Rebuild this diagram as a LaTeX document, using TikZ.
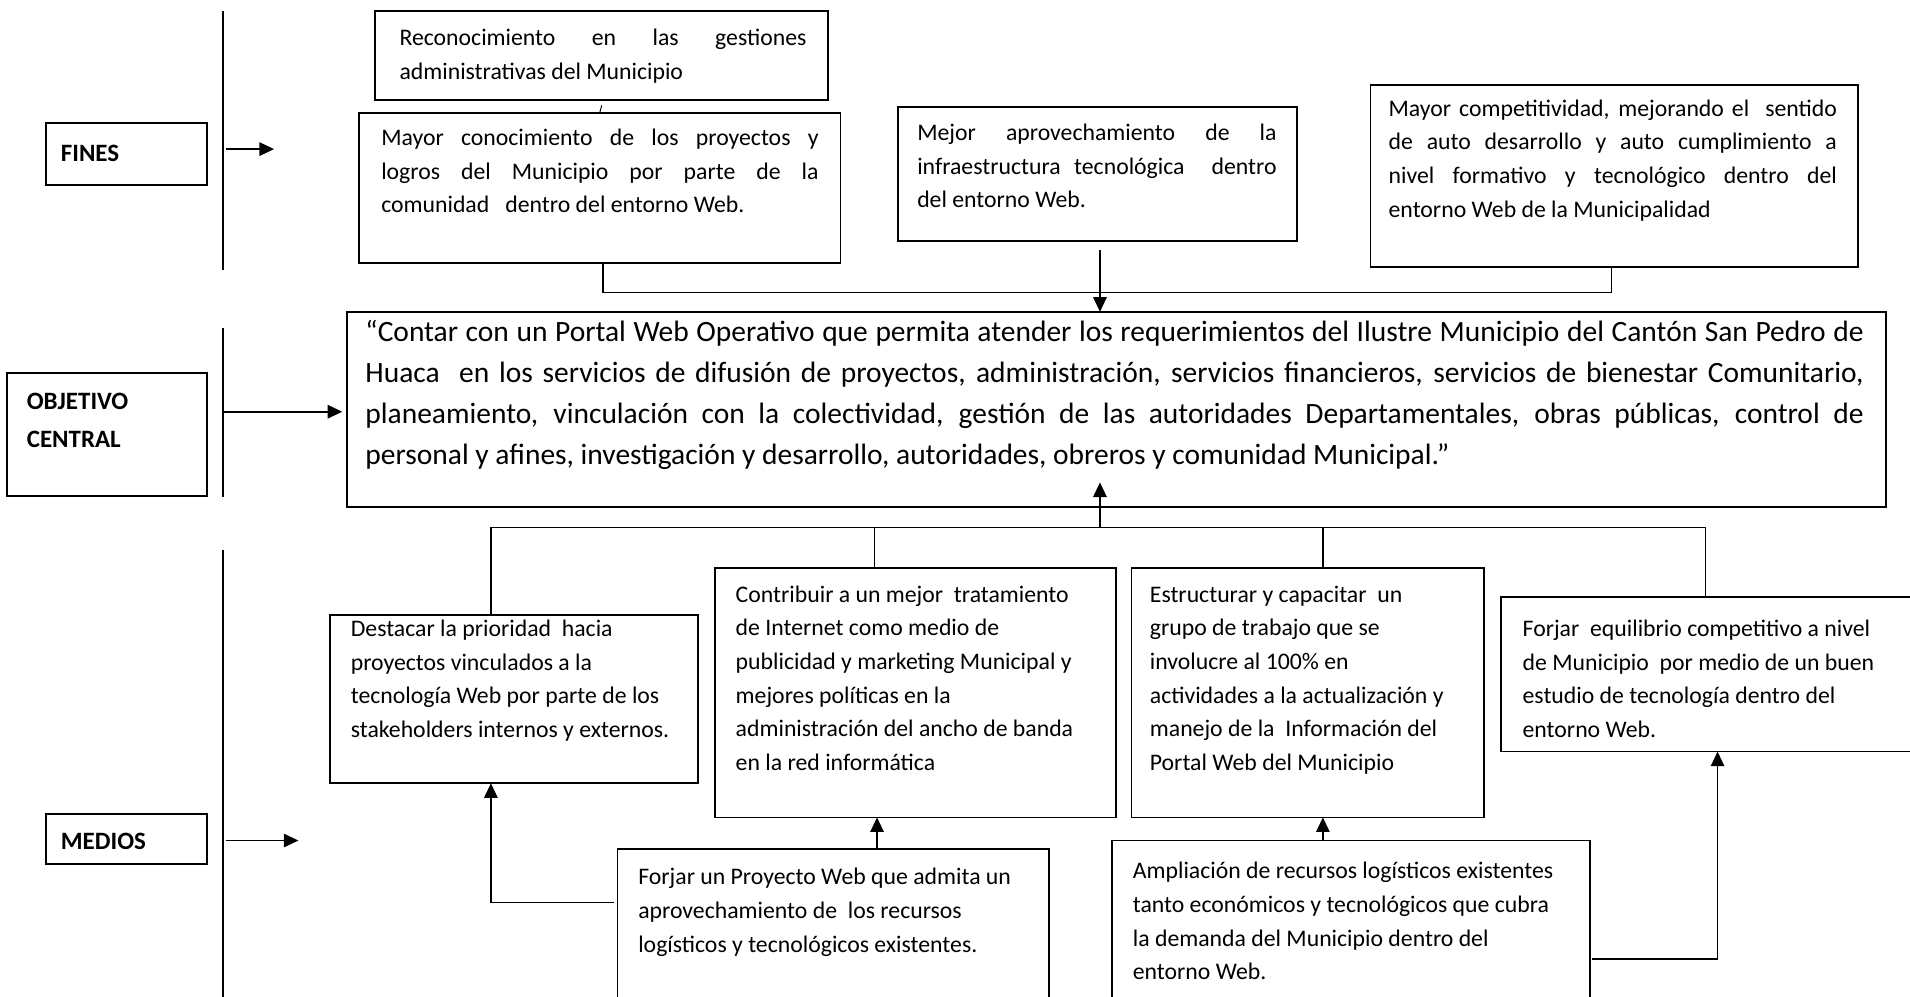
\documentclass[tikz,border=0pt]{standalone}
\usepackage{fontspec}
\setmainfont{Carlito}
\usetikzlibrary{arrows.meta}
\newcommand{\ns}{\spaceskip=0pt\xspaceskip=0pt\relax}
\newcommand{\jl}[1]{\makebox[\hsize][s]{#1}\\}
\begin{document}
\begin{tikzpicture}[x=1pt,y=1pt,line width=1.4pt,
  box/.style={draw, anchor=north west, inner sep=0pt, outer sep=0pt},
  txt/.style={anchor=base west, inner sep=0pt, outer sep=0pt, align=left, font=\fontsize{19.5}{27.6}\selectfont},
  ctxt/.style={anchor=base west, inner sep=0pt, outer sep=0pt, align=left, font=\fontsize{24.2}{33.7}\selectfont},
  lbl/.style={anchor=base west, inner sep=0pt, outer sep=0pt, align=left, font=\fontsize{20.5}{31}\selectfont\bfseries},
  arr/.style={-{Triangle[length=12pt,width=11pt]}},
  conn/.style={line width=1.4pt}]
\useasboundingbox (0,0) rectangle (1568,-817.7);
\fill[white] (0,0) rectangle (1568,-817.7);
\clip (0,0) rectangle (1568,-817.7);

% ---------- left column ----------
\coordinate (v1t) at (183,-8.8);   \coordinate (v1b) at (183,-221.7);
\coordinate (v2t) at (183,-269.5); \coordinate (v2b) at (183,-408);
\coordinate (v3t) at (183,-451.5); \coordinate (v3b) at (183,-830);
\draw[conn] (v1t) -- (v1b);
\draw[conn] (v2t) -- (v2b);
\draw[conn] (v3t) -- (v3b);

\node[box, minimum width=132pt, minimum height=51pt] (finesbox) at (38,-101) {};
\node[lbl] (finestxt) at (50,-132.5) {FINES};
\node[box, minimum width=164pt, minimum height=101pt] (objbox) at (6,-306) {};
\node[lbl, text width=140pt] (objtxt) at (22,-336) {OBJETIVO\\CENTRAL};
\node[box, minimum width=132pt, minimum height=41pt] (medbox) at (38,-668) {};
\node[lbl] (medtxt) at (50,-697) {MEDIOS};

\coordinate (fa1) at (185.5,-122.4); \coordinate (fa2) at (225,-122.4);
\coordinate (oa1) at (183,-338);     \coordinate (oa2) at (281,-338);
\coordinate (ma1) at (185.5,-690);   \coordinate (ma2) at (245,-690);
\draw[conn,arr] (fa1) -- (fa2);
\draw[conn,arr] (oa1) -- (oa2);
\draw[conn,arr] (ma1) -- (ma2);

% ---------- FINES ----------
\node[box, minimum width=372pt, minimum height=73pt] (rec) at (308,-9) {};
\node[txt, text width=334pt] (rect) at (328,-37.5) {\ns\jl{Reconocimiento en las gestiones}administrativas del Municipio};

\draw[line width=0.8pt] (492.5,-92) -- (494,-86.5);

\node[box, minimum width=395pt, minimum height=123pt] (mc) at (295,-93) {};
\node[txt, text width=359pt] (mct) at (313,-119.5) {\ns\jl{Mayor conocimiento de los proyectos y}\jl{logros del Municipio por parte de la}comunidad\ \ \ dentro del entorno Web.};

\node[box, minimum width=328pt, minimum height=110pt] (mej) at (737,-88) {};
\node[txt, text width=295pt] (mejt) at (753,-115.5) {\ns\jl{Mejor aprovechamiento de la}\jl{infraestructura tecnológica\ \ dentro}del entorno Web.};

\node[box, minimum width=400pt, minimum height=149pt] (comp) at (1125,-70) {};
\node[txt, text width=368pt] (compt) at (1140,-95.5) {\ns\jl{Mayor competitividad, mejorando el\ \ sentido}\jl{de auto desarrollo y auto cumplimiento a}\jl{nivel formativo y tecnológico dentro del}entorno Web de la Municipalidad};

% ---------- central ----------
\node[box, minimum width=1263pt, minimum height=160pt] (cen) at (285,-256) {};
\node[ctxt, text width=1230pt] (cent) at (300,-280.5) {\ns\jl{“Contar con un Portal Web Operativo que permita atender los requerimientos del Ilustre Municipio del Cantón San Pedro de}\jl{Huaca\ \ en los servicios de difusión de proyectos, administración, servicios financieros, servicios de bienestar Comunitario,}\jl{planeamiento, vinculación con la colectividad, gestión de las autoridades Departamentales, obras públicas, control de}personal y afines, investigación y desarrollo, autoridades, obreros y comunidad Municipal.”};

% connectors top
\coordinate (tj1) at (495,-240);
\coordinate (tj2) at (1323,-240);
\draw[conn] (mc.south -| tj1) -- (tj1) -- (tj2) -- (comp.south -| tj2);
\coordinate (ta) at (903,-205.5);
\draw[conn,arr] (ta) -- (cen.north -| ta);

% ---------- MEDIOS ----------
\node[box, minimum width=302pt, minimum height=138pt] (dest) at (271,-505) {};
\node[txt, text width=400pt] (destt) at (288,-522.5) {\ns Destacar la prioridad\ \ hacia\\proyectos vinculados a la\\tecnología Web por parte de los\\stakeholders internos y externos.};

\node[box, minimum width=329pt, minimum height=205pt] (contrib) at (587,-466) {};
\node[txt, text width=400pt] (contribt) at (604,-494.5) {\ns Contribuir a un mejor\ \ tratamiento\\de Internet como medio de\\publicidad y marketing Municipal y\\mejores políticas en la\\administración del ancho de banda\\en la red informática};

\node[box, minimum width=289pt, minimum height=205pt] (estr) at (929,-466) {};
\node[txt, text width=400pt] (estrt) at (944,-494.5) {\ns Estructurar y capacitar\ \ un\\grupo de trabajo que se\\involucre al 100\% en\\actividades a la actualización y\\manejo de la\ \ Información del\\Portal Web del Municipio};

\node[box, minimum width=400pt, minimum height=127pt] (feq) at (1232,-490) {};
\node[txt, text width=400pt] (feqt) at (1250,-522.5) {\ns Forjar\ \ equilibrio competitivo a nivel\\de Municipio\ \ por medio de un buen\\estudio de tecnología dentro del\\entorno Web.};

\node[box, minimum width=354pt, minimum height=140pt] (fp) at (507,-697) {};
\node[txt, text width=400pt] (fpt) at (524,-726.5) {\ns Forjar un Proyecto Web que admita un\\aprovechamiento de\ \ los recursos\\logísticos y tecnológicos existentes.};

\node[box, minimum width=392pt, minimum height=140pt] (amp) at (913,-690) {};
\node[txt, text width=400pt] (ampt) at (930,-721.5) {\ns Ampliación de recursos logísticos existentes\\tanto económicos y tecnológicos que cubra\\la demanda del Municipio dentro del\\entorno Web.};

% bar and connectors
\coordinate (bl) at (403,-433);
\coordinate (b1) at (718,-433);
\coordinate (bm) at (903,-433);
\coordinate (b2) at (1086,-433);
\coordinate (br) at (1400,-433);
\coordinate (ctip) at (903,-396);
\draw[conn] (bl) -- (br);
\draw[conn] (bl) -- (dest.north -| bl);
\draw[conn] (b1) -- (contrib.north -| b1);
\draw[conn] (b2) -- (estr.north -| b2);
\draw[conn] (br) -- (feq.north -| br);
\draw[conn,arr] (bm) -- (ctip);

\coordinate (fpL) at (504,-741);
\draw[conn,arr] (fpL) -| (dest.south -| bl);
\coordinate (fpx) at (720,-700);
\draw[conn,arr] (fp.north -| fpx) -- (contrib.south -| fpx);
\draw[conn,arr] (amp.north -| b2) -- (estr.south -| b2);
\coordinate (ampR) at (1307,-787);
\coordinate (feqx) at (1410,-700);
\draw[conn,arr] (ampR) -| (feq.south -| feqx);
\end{tikzpicture}
\end{document}
